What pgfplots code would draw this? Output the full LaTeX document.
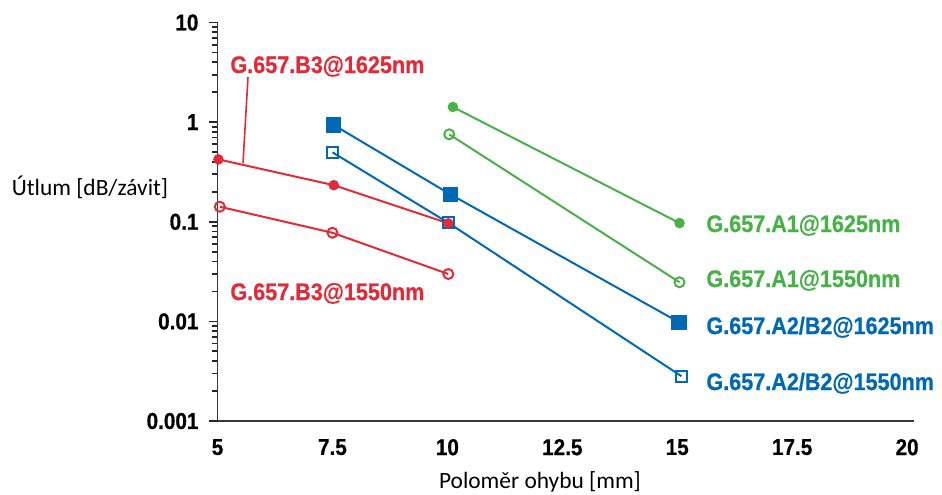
\documentclass[border=0pt]{standalone}
\usepackage{fontspec}
\setmainfont{Carlito}
\newfontfamily\condfont[FakeStretch=0.9, BoldFeatures={FakeBold=0.6}]{Liberation Sans}
\usepackage{pgfplots}
\pgfplotsset{compat=1.18}

\definecolor{cRed}{RGB}{226,42,56}
\definecolor{cBlue}{RGB}{0,104,180}
\definecolor{cGreen}{RGB}{72,178,72}

\begin{document}
\begin{tikzpicture}
\begin{axis}[
  scale only axis,
  width=348.25pt, height=199.25pt,
  xmin=5, xmax=20.15,
  ymode=log, ymin=0.001, ymax=10,
  axis x line=bottom, axis y line=left,
  axis line style={-, line width=0.9pt, black!78},
  xtick={5,7.5,10,12.5,15,17.5,20},
  xticklabels={5,7.5,10,12.5,15,17.5,20},
  ytick={0.001,0.01,0.1,1,10},
  yticklabels={0.001,0.01,0.1,1,10},
  minor ytick={},
  tick align=outside,
  major tick length=4.5pt,
  xtick style={draw=none},
  ytick style={line width=0.9pt, black!85},
  ticklabel style={font=\condfont\bfseries\fontsize{11.5}{13}\selectfont, black},
  yticklabel style={xshift=-1.5pt},
  xticklabel style={yshift=-1pt},
  clip=false,
  every axis plot/.append style={line width=1pt},
]
% overall page frame
\path (rel axis cs:-0.3123,-0.1832) rectangle (rel axis cs:1.0402,1.0565);

% G.657.A1
\addplot[cGreen, mark=*, mark size=2.1pt] coordinates {(10.12,1.42) (15.05,0.097)};
\addplot[cGreen, mark=o, mark size=2.5pt, mark options={fill=white}] coordinates {(10.04,0.755) (15.05,0.0247)};
% G.657.A2/B2
\addplot[cBlue, mark=square*, mark size=3.3pt] coordinates {(7.53,0.935) (10.07,0.188) (15.04,0.0098)};
\addplot[cBlue, mark=square, mark size=2.8pt, mark options={fill=white}] coordinates {(7.5,0.498) (10.02,0.0977) (15.09,0.00282)};
% G.657.B3
\addplot[cRed, mark=o, mark size=2.5pt, mark options={fill=white}] coordinates {(5.05,0.1416) (7.5,0.0776) (10.02,0.0299)};
\addplot[cRed, mark=*, mark size=2.1pt] coordinates {(5.02,0.423) (7.53,0.233) (10.02,0.0964)};

% callout for B3@1625
\draw[cRed, line width=0.8pt] (rel axis cs:0.0438,0.8632) -- (rel axis cs:0.0366,0.6474);

\begin{scope}[every node/.style={font=\condfont\bfseries\fontsize{12}{14}\selectfont, anchor=base west, inner sep=0pt}]
\node[text=cRed] at (rel axis cs:0.01795,0.8733) {G.657.B3@1625nm};
\node[text=cRed] at (rel axis cs:0.01795,0.3036) {G.657.B3@1550nm};
\node[text=cGreen] at (rel axis cs:0.7014,0.4743) {G.657.A1@1625nm};
\node[text=cGreen] at (rel axis cs:0.7014,0.3363) {G.657.A1@1550nm};
\node[text=cBlue] at (rel axis cs:0.7014,0.2183) {G.657.A2/B2@1625nm};
\node[text=cBlue] at (rel axis cs:0.7014,0.0778) {G.657.A2/B2@1550nm};
\end{scope}

\node[font=\fontsize{11.7}{14}\selectfont, inner sep=0pt] at (rel axis cs:-0.1831,0.5872) {Útlum [dB/závit]};
\node[font=\fontsize{11.7}{14}\selectfont, inner sep=0pt] at (rel axis cs:0.463,-0.153) {Poloměr ohybu [mm]};
\end{axis}
\end{tikzpicture}
\end{document}
